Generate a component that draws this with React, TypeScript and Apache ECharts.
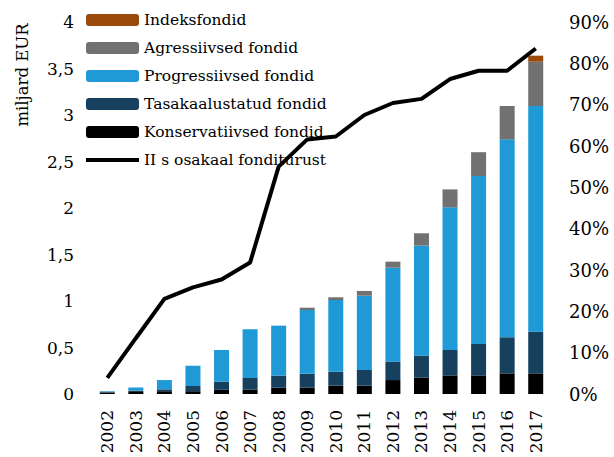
import React, { useEffect, useRef } from "react";
import * as echarts from "echarts";

const years = ["2002","2003","2004","2005","2006","2007","2008","2009","2010","2011","2012","2013","2014","2015","2016","2017"];
const konservatiivsed = [0.015, 0.03, 0.03, 0.03, 0.045, 0.045, 0.068, 0.07, 0.09, 0.09, 0.15, 0.175, 0.2, 0.2, 0.222, 0.222];
const tasakaalustatud = [0.01, 0.005, 0.02, 0.056, 0.087, 0.127, 0.13, 0.148, 0.15, 0.168, 0.198, 0.237, 0.273, 0.338, 0.388, 0.448];
const progressiivsed = [0.005, 0.035, 0.1, 0.218, 0.341, 0.523, 0.537, 0.685, 0.77, 0.799, 1.01, 1.183, 1.534, 1.806, 2.128, 2.427];
const agressiivsed = [0, 0, 0, 0, 0, 0, 0, 0.025, 0.03, 0.051, 0.065, 0.133, 0.193, 0.256, 0.359, 0.476];
const indeksfondid = [0, 0, 0, 0, 0, 0, 0, 0, 0, 0, 0, 0, 0, 0, 0, 0.065];
const osakaal = [3.9, 13.5, 23.0, 25.8, 27.7, 31.8, 55.0, 61.6, 62.3, 67.5, 70.4, 71.4, 76.2, 78.2, 78.2, 83.6];
const leftTicks = { min: 0, max: 4, interval: 0.5 };
const rightTicks = { min: 0, max: 90, interval: 10 };

const FONT = "DejaVu Serif";

export default function App() {
  const ref = useRef<HTMLDivElement>(null);
  useEffect(() => {
    document.body.style.margin = "0";
    const chart = echarts.init(ref.current!, null, { renderer: "svg" });
    const barBase = { type: "bar", stack: "total", barWidth: 15, yAxisIndex: 0 };
    chart.setOption({
      animation: false,
      textStyle: { fontFamily: FONT, color: "#000" },
      grid: { left: 93, right: 64, top: 22, bottom: 63, containLabel: false },
      legend: {
        orient: "vertical",
        left: 86,
        top: 12,
        padding: 0,
        itemWidth: 53,
        itemHeight: 12,
        itemGap: 12,
        textStyle: { fontFamily: FONT, fontSize: 15.5, color: "#000" },
        data: [
          "Indeksfondid",
          "Agressiivsed fondid",
          "Progressiivsed fondid",
          "Tasakaalustatud fondid",
          "Konservatiivsed fondid",
          { name: "II s osakaal fonditurust", icon: "path://M0,0H53V4H0Z" },
        ],
      },
      graphic: [
        {
          type: "text",
          x: 22,
          y: 75,
          rotation: Math.PI / 2,
          style: {
            text: "miljard EUR",
            fontFamily: FONT,
            fontSize: 16.5,
            fill: "#000",
            align: "center",
            verticalAlign: "middle",
          },
        },
      ],
      xAxis: {
        type: "category",
        data: years,
        axisLine: { show: false },
        axisTick: { show: false },
        axisLabel: { rotate: 90, fontFamily: FONT, fontSize: 17, color: "#000", margin: 16 },
      },
      yAxis: [
        {
          type: "value",
          ...leftTicks,
          splitLine: { show: false },
          axisLine: { show: false },
          axisTick: { show: false },
          axisLabel: {
            fontFamily: FONT,
            fontSize: 17,
            color: "#000",
            margin: 19,
            formatter: (v: number) => String(v).replace(".", ","),
          },
        },
        {
          type: "value",
          position: "right",
          ...rightTicks,
          splitLine: { show: false },
          axisLine: { show: false },
          axisTick: { show: false },
          axisLabel: { fontFamily: FONT, fontSize: 18, color: "#000", margin: 19, formatter: "{value}%" },
        },
      ],
      series: [
        { ...barBase, name: "Konservatiivsed fondid", data: konservatiivsed, itemStyle: { color: "#000000" } },
        { ...barBase, name: "Tasakaalustatud fondid", data: tasakaalustatud, itemStyle: { color: "#17405E" } },
        { ...barBase, name: "Progressiivsed fondid", data: progressiivsed, itemStyle: { color: "#1F9AD6" } },
        { ...barBase, name: "Agressiivsed fondid", data: agressiivsed, itemStyle: { color: "#717171" } },
        { ...barBase, name: "Indeksfondid", data: indeksfondid, itemStyle: { color: "#9A4A0B" } },
        {
          type: "line",
          name: "II s osakaal fonditurust",
          yAxisIndex: 1,
          data: osakaal,
          symbol: "none",
          z: 10,
          lineStyle: { color: "#000", width: 4 },
          itemStyle: { color: "#000" },
        },
      ],
    });
    return () => chart.dispose();
  }, []);
  return <div ref={ref} style={{ position: "absolute", left: 0, top: 0, width: 614, height: 457 }} />;
}
